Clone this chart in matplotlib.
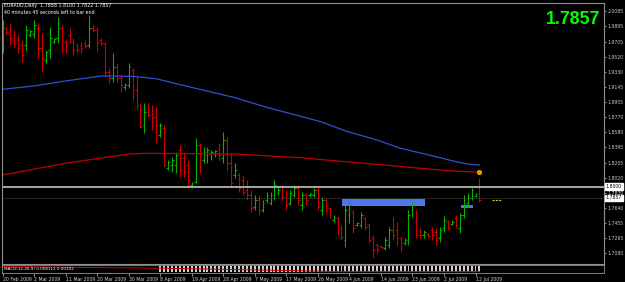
import matplotlib
matplotlib.use('Agg')
import matplotlib.pyplot as plt
from matplotlib.patches import Rectangle

# ---------------- data ----------------
opens = [1.9627,1.9875,1.9875,1.9788,1.9726,1.9664,1.9664,1.9788,1.9801,1.9875,
         1.9627,1.9478,1.9602,1.9701,1.9751,1.9875,1.9701,1.9788,1.9701,1.9664,
         1.9652,1.9677,1.9664,1.9875,1.9850,1.9726,1.9677,1.9329,1.9255,1.9391,
         1.9255,1.9143,1.9168,1.9354,1.9106,1.8920,1.8672,1.8833,1.8796,1.8771,
         1.8548,1.8635,1.8139,1.8176,1.8176,1.8362,1.8263,1.8176,1.7928,1.7965,
         1.8424,1.8238,1.8300,1.8300,1.8325,1.8362,1.8263,1.8486,1.8201,1.8052,
         1.8052,1.7990,1.7866,1.7804,1.7655,1.7742,1.7618,1.7742,1.7705,1.7767,1.7829,
         1.7903,1.7804,1.7705,1.7804,1.7891,1.7680,1.7804,1.7804,1.7804,1.7866,
         1.7618,1.7742,1.7643,1.7494,1.7519,1.7395,1.7246,1.7556,1.7593,1.7432,
         1.7432,1.7519,1.7432,1.7271,1.7184,1.7172,1.7147,1.7184,1.7370,1.7370,
         1.7271,1.7209,1.7246,1.7618,1.7593,1.7370,1.7308,1.7320,1.7370,1.7345,
         1.7271,1.7395,1.7469,1.7444,1.7519,1.7395,1.7556,1.7705,1.7767,1.7792,
         1.7891]
highs = [1.9974,1.9887,1.9937,1.9850,1.9788,1.9726,1.9912,1.9850,1.9974,1.9937,
         1.9813,1.9602,1.9887,1.9751,2.0011,1.9912,1.9726,1.9875,1.9751,1.9689,
         1.9701,1.9726,2.0036,1.9912,1.9887,1.9751,1.9701,1.9379,1.9565,1.9441,
         1.9292,1.9193,1.9441,1.9379,1.9267,1.8945,1.8945,1.8945,1.8920,1.8895,
         1.8697,1.8672,1.8238,1.8275,1.8337,1.8424,1.8337,1.8238,1.7965,1.8511,
         1.8449,1.8399,1.8399,1.8362,1.8362,1.8449,1.8585,1.8523,1.8325,1.8201,
         1.8077,1.8052,1.7990,1.7866,1.7804,1.7804,1.7742,1.7841,1.7841,1.7990,1.7903,
         1.7928,1.7866,1.7866,1.7928,1.7928,1.7841,1.7829,1.7829,1.7891,1.7903,
         1.7779,1.7767,1.7655,1.7556,1.7531,1.7432,1.7680,1.7742,1.7618,1.7469,
         1.7593,1.7531,1.7457,1.7308,1.7209,1.7184,1.7283,1.7407,1.7531,1.7469,
         1.7283,1.7271,1.7618,1.7717,1.7618,1.7395,1.7370,1.7333,1.7407,1.7395,
         1.7407,1.7544,1.7494,1.7494,1.7556,1.7581,1.7804,1.7829,1.7891,1.7829,
         1.8015]
lows = [1.9565,1.9788,1.9664,1.9627,1.9565,1.9453,1.9602,1.9763,1.9751,1.9503,
        1.9329,1.9441,1.9503,1.9689,1.9689,1.9565,1.9565,1.9689,1.9540,1.9578,
        1.9565,1.9627,1.9627,1.9825,1.9578,1.9664,1.9267,1.9193,1.9205,1.9205,
        1.9081,1.9106,1.9131,1.8982,1.8858,1.8635,1.8573,1.8771,1.8610,1.8449,
        1.8523,1.8151,1.8114,1.8089,1.8077,1.8027,1.8027,1.7903,1.7891,1.7953,
        1.8077,1.8201,1.8201,1.8238,1.8275,1.8238,1.8201,1.8114,1.7891,1.8015,
        1.7841,1.7804,1.7742,1.7593,1.7618,1.7556,1.7593,1.7705,1.7680,1.7742,1.7804,
        1.7742,1.7618,1.7680,1.7779,1.7680,1.7618,1.7680,1.7779,1.7779,1.7618,
        1.7556,1.7593,1.7519,1.7469,1.7308,1.7246,1.7159,1.7457,1.7333,1.7420,
        1.7395,1.7370,1.7209,1.7023,1.7085,1.7147,1.7122,1.7147,1.7246,1.7184,
        1.7097,1.7184,1.7184,1.7531,1.7271,1.7271,1.7271,1.7283,1.7246,1.7184,
        1.7221,1.7345,1.7370,1.7432,1.7395,1.7333,1.7519,1.7655,1.7742,1.7779,
        1.7717]
closes = [1.9875,1.9825,1.9751,1.9689,1.9627,1.9540,1.9850,1.9838,1.9912,1.9627,
          1.9503,1.9578,1.9751,1.9739,1.9875,1.9726,1.9602,1.9701,1.9602,1.9602,
          1.9627,1.9652,1.9875,1.9850,1.9701,1.9689,1.9329,1.9255,1.9391,1.9255,
          1.9168,1.9168,1.9391,1.9106,1.8920,1.8647,1.8833,1.8796,1.8759,1.8672,
          1.8672,1.8176,1.8213,1.8238,1.8300,1.8114,1.8089,1.7990,1.7953,1.8424,
          1.8300,1.8337,1.8362,1.8337,1.8350,1.8300,1.8486,1.8201,1.7953,1.8114,
          1.7891,1.7841,1.7804,1.7643,1.7742,1.7618,1.7705,1.7804,1.7804,1.7928,1.7866,
          1.7779,1.7680,1.7829,1.7891,1.7742,1.7804,1.7742,1.7820,1.7866,1.7655,
          1.7742,1.7618,1.7556,1.7531,1.7370,1.7283,1.7618,1.7680,1.7395,1.7457,
          1.7556,1.7407,1.7246,1.7122,1.7122,1.7159,1.7246,1.7370,1.7308,1.7271,
          1.7184,1.7246,1.7556,1.7680,1.7308,1.7308,1.7345,1.7296,1.7308,1.7246,
          1.7370,1.7494,1.7395,1.7469,1.7432,1.7556,1.7742,1.7792,1.7866,1.7816,
          1.7742]

ma_blue_idx = [0, 8, 16, 25, 33, 39, 42, 50, 59, 67, 76, 81, 87, 95, 101, 110, 114, 118, 121]
ma_blue_val = [1.9115, 1.9156, 1.9218, 1.9280, 1.9276, 1.9246, 1.9209, 1.9115, 1.9011,
               1.8891, 1.8775, 1.8709, 1.8598, 1.8486, 1.8383, 1.8279, 1.8229, 1.8188, 1.8176]
ma_red_idx = [0, 16, 32, 36, 59, 76, 84, 97, 106, 114, 121]
ma_red_val = [1.8052, 1.8197, 1.8312, 1.8321, 1.8312, 1.8265, 1.8229, 1.8176, 1.8135, 1.8102, 1.8086]

date_idx = [0, 8, 16, 24, 32, 40, 48, 56, 64, 72, 80, 88, 96, 104, 112, 120]
date_lbl = ['20 Feb 2009', '2 Mar 2009', '11 Mar 2009', '20 Mar 2009', '30 Mar 2009',
            '8 Apr 2009', '19 Apr 2009', '28 Apr 2009', '7 May 2009', '17 May 2009',
            '26 May 2009', '4 Jun 2009', '14 Jun 2009', '23 Jun 2009', '2 Jul 2009', '12 Jul 2009']

price_ticks = [2.0085, 1.9895, 1.9705, 1.9520, 1.9330, 1.9145, 1.8955, 1.8770, 1.8580,
               1.8395, 1.8205, 1.8020, 1.7830, 1.7640, 1.7455, 1.7265, 1.7080]

hline_price = 1.7909
bid_price = 1.7767
zone_big = (86.2, 107.3, 1.7671, 1.7755)
zone_small = (116.4, 119.4, 1.7647, 1.7680)
marker_idx, marker_price = 121, 1.8089
ray_idx = (124.3, 126.8)
ray_price = 1.7742

title_line1 = 'EURAUD,Daily  1.7888 1.8100 1.7822 1.7857'
title_line2 = '40 minutes 45 seconds left to bar end'
big_price = '1.7857'
ind_label = 'MACD(12,26,9) 0.008112 0.00302'

# ---------------- figure ----------------
W, H = 625, 282
fig = plt.figure(figsize=(W / 100, H / 100), dpi=100, facecolor='black')

def fbox(l, t, r, b):
    return [l / W, 1 - b / H, (r - l) / W, (b - t) / H]

ax = fig.add_axes(fbox(2, 3, 604, 264))
ax.set_facecolor('black')
n = len(opens)
ax.set_xlim(-0.13, 152.6)
ax.set_ylim(1.6948, 2.0185)

up_c, dn_c = '#00b400', '#d00000'
for i in range(n):
    c = up_c if closes[i] >= opens[i] else dn_c
    ax.vlines(i, lows[i], highs[i], color=c, lw=0.8)
    ax.hlines(opens[i], i - 0.45, i, color=c, lw=0.8)
    ax.hlines(closes[i], i, i + 0.45, color=c, lw=0.8)

ax.plot(ma_blue_idx, ma_blue_val, color='#2f4fd0', lw=0.9)
ax.plot(ma_red_idx, ma_red_val, color='#c00000', lw=0.9)

ax.axhline(hline_price, color='#a8a8a8', lw=1.4)
ax.axhline(bid_price, color='#505050', lw=0.6, ls=(0, (1, 1)))

ax.add_patch(Rectangle((zone_big[0], zone_big[2]), zone_big[1] - zone_big[0],
                       zone_big[3] - zone_big[2], color='#4a78e6', lw=0))
ax.add_patch(Rectangle((zone_small[0], zone_small[2]), zone_small[1] - zone_small[0],
                       zone_small[3] - zone_small[2], color='#4a78e6', lw=0))
ax.plot([marker_idx], [marker_price], marker='o', ms=3, mfc='#c8a000', mec='#ffd000', mew=0.5)
ax.plot(list(ray_idx), [ray_price, ray_price], color='#e0c000', lw=0.8, ls=(0, (2, 1)))

ax.yaxis.tick_right()
ax.set_yticks(price_ticks)
ax.set_yticklabels([f'{p:.4f}' for p in price_ticks])
ax.tick_params(axis='y', colors='#c8c8c8', labelsize=3.3, length=1.5, width=0.5, pad=1)
ax.set_xticks([])
for s in ax.spines.values():
    s.set_color('#909090')
    s.set_linewidth(0.8)

for p, txt in [(hline_price, '1.8000'), (bid_price, '1.7857')]:
    ax.text(1.003, p, txt, transform=ax.get_yaxis_transform(), fontsize=3.3,
            color='black', va='center', ha='left',
            bbox=dict(boxstyle='square,pad=0.15', fc='white', ec='white'))

fig.text(4 / W, 1 - 6 / H, title_line1, color='white', fontsize=3.4, va='center', ha='left')
fig.text(4 / W, 1 - 12 / H, title_line2, color='white', fontsize=3.4, va='center', ha='left')
fig.text(600 / W, 1 - 19 / H, big_price, color='#00ff00', fontsize=12.8, fontweight='bold',
         family='Liberation Sans', va='center', ha='right')

axi = fig.add_axes(fbox(2, 265, 604, 273))
axi.set_facecolor('black')
axi.set_xlim(ax.get_xlim())
axi.set_ylim(0, 1)
axi.set_yticks([])
for s in axi.spines.values():
    s.set_color('#909090')
    s.set_linewidth(0.6)
axi.bar(range(40, n), [0.7] * (n - 40), width=0.5, color='#d0d0d0', bottom=0.15)
axi.plot([0, 40, 84, n - 1], [0.8, 0.6, 0.2, 0.2], color='#d00000', lw=0.7)
axi.text(0.5, 0.5, ind_label, color='white', fontsize=3.0, va='center', ha='left')
axi.set_xticks(date_idx)
axi.set_xticklabels(date_lbl, ha='left')
axi.tick_params(axis='x', colors='#d0d0d0', labelsize=3.3, length=2, width=0.5, pad=1)

fig.savefig('out.png', dpi=100, facecolor='black')
